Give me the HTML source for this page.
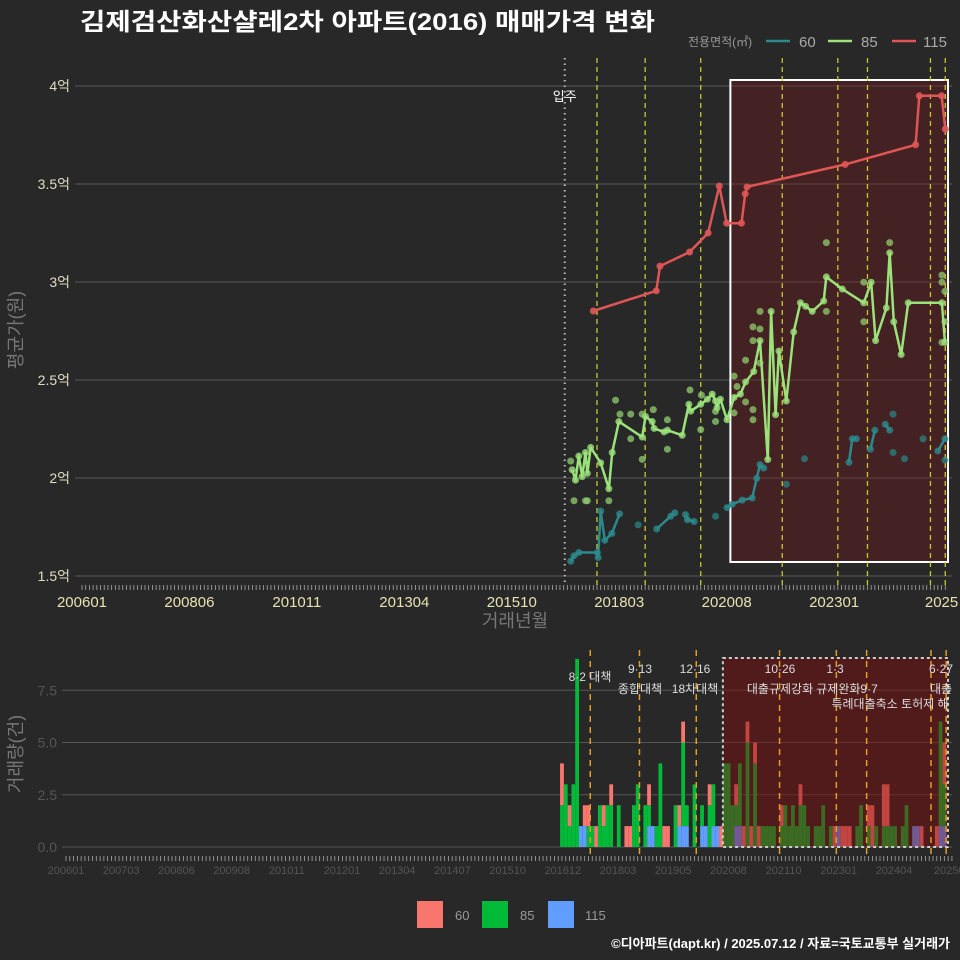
<!DOCTYPE html>
<html><head><meta charset="utf-8"><style>
body{margin:0;background:#282828;}
svg{display:block;font-family:"Liberation Sans","Noto Sans CJK KR",sans-serif;}
</style></head><body>
<svg id="c" width="960" height="960" viewBox="0 0 960 960">
<rect width="960" height="960" fill="#282828"/>
<g id="gtop"></g><g id="gbot"></g>
<text x="80" y="30" font-size="24" font-weight="bold" fill="#ffffff" textLength="575" lengthAdjust="spacingAndGlyphs">김제검산화산샬레2차 아파트(2016) 매매가격 변화</text>
<g>
<text x="688" y="46" font-size="12" fill="#999">전용면적(㎡)</text>
<line x1="766" y1="41" x2="790" y2="41" stroke="#2a8a8c" stroke-width="2.5"/>
<text x="799" y="47" font-size="15" fill="#aaa">60</text>
<line x1="828" y1="41" x2="852" y2="41" stroke="#9be27a" stroke-width="2.5"/>
<text x="861" y="47" font-size="15" fill="#aaa">85</text>
<line x1="892" y1="41" x2="916" y2="41" stroke="#e05555" stroke-width="2.5"/>
<text x="923" y="47" font-size="15" fill="#aaa">115</text>
</g>
<text transform="translate(22,330) rotate(-90)" text-anchor="middle" font-size="18" fill="#777">평균가(원)</text>
<text x="515" y="627" text-anchor="middle" font-size="18" fill="#777">거래년월</text>
<text transform="translate(22,754) rotate(-90)" text-anchor="middle" font-size="18" fill="#777">거래량(건)</text>
<g>
<rect x="417" y="901" width="26" height="27" fill="#F8766D"/>
<text x="455" y="920" font-size="13" fill="#999">60</text>
<rect x="482" y="901" width="26" height="27" fill="#00BA38"/>
<text x="520" y="920" font-size="13" fill="#999">85</text>
<rect x="548" y="901" width="26" height="27" fill="#619CFF"/>
<text x="585" y="920" font-size="13" fill="#999">115</text>
</g>
<text x="950" y="948" text-anchor="end" font-size="13" font-weight="bold" fill="#fff">©디아파트(dapt.kr) / 2025.07.12 / 자료=국토교통부 실거래가</text>
</svg>
<script>
// month index from 2006-01; values in 만원
const yTicks=[15000,20000,25000,30000,35000,40000];
const yTickLabels=["1.5억","2억","2.5억","3억","3.5억","4억"];
const xTickMonths=[0,29,58,87,116,145,174,203,232];
const xTickLabels=["200601","200806","201011","201304","201510","201803","202008","202301","2025"];
const l115m=[138,155,156,164,169,172,174,178,179,179.5,206,225,226,232,233];
const l115v=[28520,29550,30810,31530,32500,34900,33000,33000,34500,34850,36000,37000,39500,39500,37800];
const l85m=[132.3,133.2,134.1,135,135.9,136.4,137.3,140,142.2,143.1,144.9,151.2,152.1,153.9,154.4,157.1,158,162,163.8,164.3,167,168.8,170.1,171,171.4,172.3,174.1,176,177.7,179.1,181.3,183,185.1,186,187.2,188.1,190.1,192.1,193.9,195.3,197.1,200.2,200.9,205.2,211,213,214.2,217.1,218,219.1,221.1,223,232.1,232.9];
const l85v=[20420,19890,21120,20070,21300,20240,21560,20770,19450,21300,22880,22090,23140,22880,22530,22350,22440,22180,23760,23410,23760,24020,24280,23930,23580,24020,22970,24110,24280,24900,25430,27010,20940,28500,23230,26480,23930,27450,28940,28760,28500,29030,30260,29640,28940,29990,27010,28680,31490,27970,26300,28940,28940,26920];
const s85m=[131.9,132.8,135.9,136.4,142.2,144,145.2,148.1,151.2,148.1,158,151.2,154.2,158,164.1,167.2,167,171,171,176,176.8,179.1,181.1,181.1,176,179.1,181.1,183,181.1,183,183,200.9,200.9,211,211,218,232.1,232.1,232.1,232.9,232.9];
const s85v=[20860,18840,18840,18840,18840,23970,23260,23260,23260,22000,21470,20950,23490,22970,24490,24230,22470,22880,23400,25200,24670,23880,23490,22970,23320,26010,27710,27600,27010,28500,25860,32010,28500,29990,27970,32010,30350,29990,26920,29520,27970];
const l60m=[131.9,132.8,134.1,139.1,139.3,140,141.1,143,145.1,null,155.1,158.9,160,null,162.9,163.4,165.2,null,174.1,175.5,178.2,180.9,182.1,183,184,null,207,207.9,209,null,212.8,214,null,216.8,218,null,231,232.9];
const l60v=[15760,16030,16200,16200,15940,18310,16820,17170,18170,null,17400,18050,18220,null,18130,17870,17780,null,18490,18660,18870,18980,19980,20680,20510,null,20800,22000,22000,null,21470,22440,null,22740,22440,null,21380,22000];
const s60m=[150.1,171,190.1,195,218.9,218.9,222,227,232.9];
const s60v=[17610,18050,19680,20980,23260,21300,20980,22000,20910];
const eventMonths=[139,152,167,189,204,212,229,233];
const volMonths=[131,132,133,134,135,136,137,138,139,140,141,142,143,144,146,148,149,150,151,153,154,155,156,157,158,159,161,162,163,164,166,168,169,170,171,172,173,174,175,176,177,178,179,180,181,182,183,184,185,186,187,189,190,191,192,193,194,195,196,198,199,200,202,203,204,205,206,207,209,210,212,213,214,216,217,218,219,221,222,224,225,226,230,231,232];
const vol60=[2,0,1,0,0,0,1,1,0,1,0,1,0,1,0,1,1,0,0,0,1,0,0,0,1,1,0,1,1,0,0,0,0,1,0,0,1,0,0,0,1,0,1,1,1,1,1,0,0,0,0,1,0,0,0,0,1,0,0,0,0,0,0,1,0,1,1,1,0,0,1,2,0,2,2,0,0,0,0,0,0,1,1,0,2];
const vol85=[2,3,1,3,9,0,0,1,1,0,2,1,2,2,2,0,0,2,3,2,1,0,1,4,0,0,2,0,4,1,3,1,0,2,2,0,0,4,4,2,1,3,0,5,0,4,0,1,1,1,1,1,2,1,2,1,2,2,1,1,1,2,1,0,0,0,0,0,1,2,1,0,1,1,1,1,1,1,2,0,0,0,0,5,2];
const vol115=[0,0,0,0,0,1,1,0,0,0,0,0,0,0,0,0,0,0,0,0,1,1,0,0,0,0,0,1,1,1,0,1,1,0,1,1,0,0,0,0,1,1,0,0,0,0,0,0,0,0,0,0,0,0,0,0,0,0,0,0,0,0,0,0,1,0,0,0,0,0,0,0,0,0,0,0,0,0,0,1,1,0,0,1,1];
const volTicks=[0,2.5,5,7.5];
const volTickLabels=["0.0","2.5","5.0","7.5"];
const volXMonths=[0,14.58,29.16,43.74,58.32,72.9,87.48,102.06,116.64,131.22,145.8,160.38,174.96,189.54,204.12,218.7,233.28];
const volXLabels=["200601","200703","200806","200908","201011","201201","201304","201407","201510","201612","201803","201905","202008","202110","202301","202404","20250"];

(function(){
const NS="http://www.w3.org/2000/svg";
function mk(parent,tag,attrs,name){const e=document.createElementNS(NS,tag);for(const k in attrs)e.setAttribute(k,attrs[k]);


parent.appendChild(e);return e;}
const X=m=>82+m*3.705;
const Y=v=>86+(40000-v)*98/5000;
const XB=m=>66+m*3.786;
const YB=c=>847-c*20.9;
const gTop=document.getElementById('gtop'),gBot=document.getElementById('gbot');

yTicks.forEach((t,i)=>{
 mk(gTop,'line',{x1:75,x2:952,y1:Y(t),y2:Y(t),stroke:'#5a5a5a','stroke-width':1},'y-gridline');
 const tx=mk(gTop,'text',{x:70,y:Y(t)+5,'text-anchor':'end','font-size':14,fill:'#e0dcc0'},'y-tick-label');tx.textContent=yTickLabels[i];
});
for(let m=0;m<=233;m++){mk(gTop,'line',{x1:X(m),x2:X(m),y1:585,y2:590,stroke:'#aaa','stroke-width':0.8},'x-minor-tick');}
xTickMonths.forEach((m,i)=>{const t=mk(gTop,'text',{x:X(m),y:607,'text-anchor':'middle','font-size':15,fill:'#e8e2b0'},'x-tick-label');t.textContent=xTickLabels[i];});
mk(gTop,'rect',{x:X(175),y:80,width:948-X(175),height:482,fill:'rgba(120,20,25,0.35)',stroke:'#fff','stroke-width':2},'highlight-period-box');
mk(gTop,'line',{x1:X(130.3),x2:X(130.3),y1:58,y2:585,stroke:'#bbb','stroke-width':2,'stroke-dasharray':'1.5 4'},'move-in-line');
const mv=mk(gTop,'text',{x:X(130.3),y:101,'text-anchor':'middle','font-size':13,fill:'#fff'},'move-in-label');mv.textContent='입주';
eventMonths.forEach(m=>mk(gTop,'line',{x1:X(m),x2:X(m),y1:58,y2:585,stroke:'#c8c830','stroke-width':1.3,'stroke-dasharray':'5 4'},'policy-event-line'));

function line(g,ms,vs,col,name){let d='',pen=false;ms.forEach((m,i)=>{if(m===null){pen=false;return;}d+=(pen?'L':'M')+X(m).toFixed(1)+' '+Y(vs[i]).toFixed(1);pen=true;});mk(g,'path',{d:d,fill:'none',stroke:col,'stroke-width':2.5,'stroke-linejoin':'round'},name);}
function pts(g,ms,vs,col,op,name){ms.forEach((m,i)=>{if(m===null)return;mk(g,'circle',{cx:X(m),cy:Y(vs[i]),r:3.5,fill:col,'fill-opacity':op},name);});}
pts(gTop,s60m,s60v,'#2a8a8c',0.7,'point-60');
pts(gTop,l60m,l60v,'#2a8a8c',0.8,'point-60');
line(gTop,l60m,l60v,'#2a8a8c','line-60');
pts(gTop,s85m,s85v,'#8fce6e',0.75,'point-85');
pts(gTop,l85m,l85v,'#9be27a',0.8,'point-85');
line(gTop,l85m,l85v,'#9be27a','line-85');
pts(gTop,l115m,l115v,'#e05555',0.9,'point-115');
line(gTop,l115m,l115v,'#e05555','line-115');

volTicks.forEach((t,i)=>{
 mk(gBot,'line',{x1:62,x2:952,y1:YB(t),y2:YB(t),stroke:'#555','stroke-width':1},'volume-gridline');
 const tx=mk(gBot,'text',{x:57,y:YB(t)+5,'text-anchor':'end','font-size':14,fill:'#555'},'volume-y-tick-label');tx.textContent=volTickLabels[i];
});
for(let m=0;m<=234;m++){mk(gBot,'line',{x1:XB(m),x2:XB(m),y1:856,y2:861,stroke:'#aaa','stroke-width':0.8},'volume-minor-tick');}
volXMonths.forEach((m,i)=>{const t=mk(gBot,'text',{x:XB(m),y:874,'text-anchor':'middle','font-size':11,fill:'#555'},'volume-x-tick-label');t.textContent=volXLabels[i];});
const bw=3.786;
volMonths.forEach((m,i)=>{
 const x=XB(m)-bw/2;let base=0;
 [[vol115[i],'#619CFF'],[vol85[i],'#00BA38'],[vol60[i],'#F8766D']].forEach(([c,col])=>{
  if(c>0){mk(gBot,'rect',{x:x,y:YB(base+c),width:bw,height:c*20.9,fill:col},'volume-bar');base+=c;}
 });
});
mk(gBot,'rect',{x:XB(173.5),y:658,width:948-XB(173.5),height:189,fill:'rgba(130,10,10,0.45)',stroke:'#ccc','stroke-width':2,'stroke-dasharray':'3 3'},'volume-highlight-box');
eventMonths.forEach(m=>mk(gBot,'line',{x1:XB(m)-2,x2:XB(m)-2,y1:650,y2:858,stroke:'#e0a020','stroke-width':1.5,'stroke-dasharray':'6 5'},'volume-event-line'));
const notes=[[590,681,'8·2 대책'],[640,673,'9·13'],[640,693,'종합대책'],[695,673,'12·16'],[695,693,'18차대책'],[780,673,'10·26'],[780,693,'대출규제강화'],[835,673,'1·3'],[847,693,'규제완화9·7'],[890,708,'특례대출축소 토허제 해'],[941,673,'6·27'],[941,693,'대출']];
notes.forEach(n=>{const t=mk(gBot,'text',{x:n[0],y:n[1],'text-anchor':'middle','font-size':12,fill:'#ddd'},'policy-annotation');t.textContent=n[2];});
})();
</script>
</body></html>
